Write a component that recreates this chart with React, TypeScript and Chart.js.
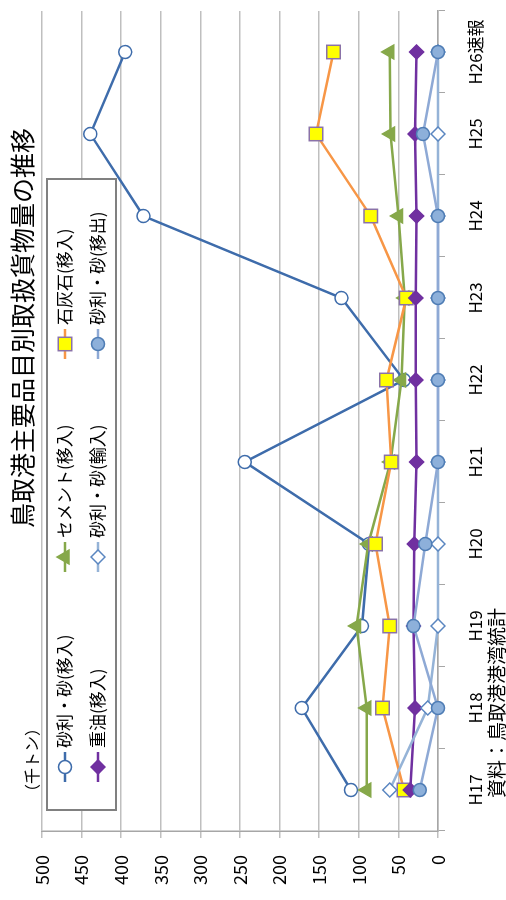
import React, { useEffect, useRef } from 'react';
import { Chart, registerables } from 'chart.js';
import { drawPoint } from 'chart.js/helpers';

Chart.register(...registerables);

const categories = ['H17', 'H18', 'H19', 'H20', 'H21', 'H22', 'H23', 'H24', 'H25', 'H26速報'];
const gravelIn = [110, 172, 96, 87, 244, 43, 122, 372, 439, 395];
const cementIn = [90, 90, 103, 88, 60, 46, 42, 50, 60, 61];
const limestoneIn = [43, 70, 61, 79, 59, 65, 40, 85, 154, 132];
const heavyOilIn = [35, 29, 31, 30, 27, 28, 28, 27, 29, 27];
const gravelImport = [61, 13, 0, 0, 0, 0, 0, 0, 0, 0];
const gravelOut = [23, 0, 31, 16, 0, 0, 0, 0, 19, 0];
const seriesNames = ['砂利・砂(移入)', 'セメント(移入)', '石灰石(移入)', '重油(移入)', '砂利・砂(輸入)', '砂利・砂(移出)'];
const valueMin = 0;
const valueMax = 500;
const valueStep = 50;
const titleText = '鳥取港主要品目別取扱貨物量の推移';
const unitText = '（千トン）';
const sourceText = '資料：鳥取港港湾統計';

const JP = '"Noto Sans CJK JP", "Noto Sans", sans-serif';

const styles = [
  { line: '#3E6CAB', fill: '#FFFFFF', border: '#3E6CAB', shape: 'circle', radius: 6.5 },
  { line: '#86A84A', fill: '#86A84A', border: '#86A84A', shape: 'triangle', radius: 8 },
  { line: '#F79646', fill: '#FFFF00', border: '#8A72A8', shape: 'rect', radius: 9.5 },
  { line: '#7030A0', fill: '#7030A0', border: '#7030A0', shape: 'rectRot', radius: 7 },
  { line: '#95B3D7', fill: '#FFFFFF', border: '#5A86C0', shape: 'rectRot', radius: 7 },
  { line: '#8EA9D5', fill: '#8DB0DA', border: '#4F7DB5', shape: 'circle', radius: 6.5 },
];

const seriesData = [gravelIn, cementIn, limestoneIn, heavyOilIn, gravelImport, gravelOut];

const overlayPlugin = {
  id: 'overlay',
  afterDraw(chart: any) {
    const ctx = chart.ctx;
    ctx.save();
    // title
    ctx.fillStyle = '#000';
    ctx.font = `25px ${JP}`;
    ctx.textAlign = 'center';
    ctx.textBaseline = 'middle';
    ctx.fillText(titleText, 572, 22);
    // unit
    ctx.font = `16px ${JP}`;
    ctx.textAlign = 'left';
    ctx.fillText(unitText, 100, 32);
    // source
    ctx.font = `19px ${JP}`;
    ctx.fillText(sourceText, 102, 497);

    // legend box
    const bx = 90, by = 47, bw = 631, bh = 69;
    ctx.fillStyle = '#FFFFFF';
    ctx.fillRect(bx, by, bw, bh);
    ctx.strokeStyle = '#808080';
    ctx.lineWidth = 2;
    ctx.strokeRect(bx, by, bw, bh);

    const colX = [133, 343, 556];
    const rowY = [65, 98];
    ctx.font = `17px ${JP}`;
    seriesNames.forEach((name, i) => {
      const col = i % 3;
      const row = Math.floor(i / 3);
      const cx = colX[col];
      const cy = rowY[row];
      const st = styles[i];
      ctx.strokeStyle = st.line;
      ctx.lineWidth = 2.5;
      ctx.beginPath();
      ctx.moveTo(cx - 15, cy);
      ctx.lineTo(cx + 15, cy);
      ctx.stroke();
      ctx.fillStyle = st.fill;
      ctx.strokeStyle = st.border;
      ctx.lineWidth = 1.5;
      drawPoint(ctx, { pointStyle: st.shape, radius: st.radius, rotation: 0, borderWidth: 1.5 } as any, cx, cy);
      ctx.fillStyle = '#000';
      ctx.textAlign = 'left';
      ctx.textBaseline = 'middle';
      ctx.fillText(name, cx + 19, cy);
    });
    ctx.restore();
  },
};

export default function App() {
  const ref = useRef<HTMLCanvasElement>(null);

  useEffect(() => {
    if (!ref.current) return;
    const chart = new Chart(ref.current, {
      type: 'line',
      data: {
        labels: categories,
        datasets: seriesData.map((d, i) => ({
          label: seriesNames[i],
          data: d,
          borderColor: styles[i].line,
          borderWidth: 2.5,
          backgroundColor: styles[i].fill,
          pointBackgroundColor: styles[i].fill,
          pointBorderColor: styles[i].border,
          pointBorderWidth: 1.5,
          pointStyle: styles[i].shape as any,
          pointRadius: styles[i].radius,
          tension: 0,
          fill: false,
          order: 10 - i,
          clip: false as any,
        })),
      },
      options: {
        responsive: false,
        maintainAspectRatio: false,
        devicePixelRatio: 1,
        animation: false,
        layout: { padding: { top: 42, right: 0, bottom: 0, left: 0 } },
        plugins: {
          legend: { display: false },
          title: { display: false },
          tooltip: { enabled: false },
        },
        scales: {
          x: {
            type: 'category',
            offset: true,
            grid: {
              display: true,
              offset: true,
              drawOnChartArea: false,
              drawTicks: true,
              tickLength: 7,
              color: '#A6A6A6',
            },
            border: { display: true, color: '#A6A6A6', width: 1.5 },
            ticks: {
              color: '#000',
              font: { family: JP, size: 17, lineHeight: 3.6 },
              padding: 0,
              maxRotation: 0,
              autoSkip: false,
            },
            afterFit: (s: any) => {
              s.height = 68;
            },
          },
          y: {
            min: valueMin,
            max: valueMax,
            grid: {
              color: '#BFBFBF',
              lineWidth: 1.5,
              drawTicks: true,
              tickLength: 7,
            },
            border: { display: true, color: '#A6A6A6', width: 1.5 },
            ticks: {
              stepSize: valueStep,
              color: '#000',
              font: { family: JP, size: 18 },
              padding: 17,
            },
            afterFit: (s: any) => {
              s.width = 69;
            },
          },
        },
      },
      plugins: [overlayPlugin],
    });
    return () => chart.destroy();
  }, []);

  return (
    <div
      style={{
        position: 'fixed',
        left: 0,
        top: 0,
        width: 900,
        height: 506,
        transformOrigin: '0 0',
        transform: 'translate(0px, 900px) rotate(-90deg)',
        background: '#FFFFFF',
      }}
    >
      <canvas ref={ref} width={900} height={506} style={{ display: 'block', width: 900, height: 506 }} />
    </div>
  );
}
